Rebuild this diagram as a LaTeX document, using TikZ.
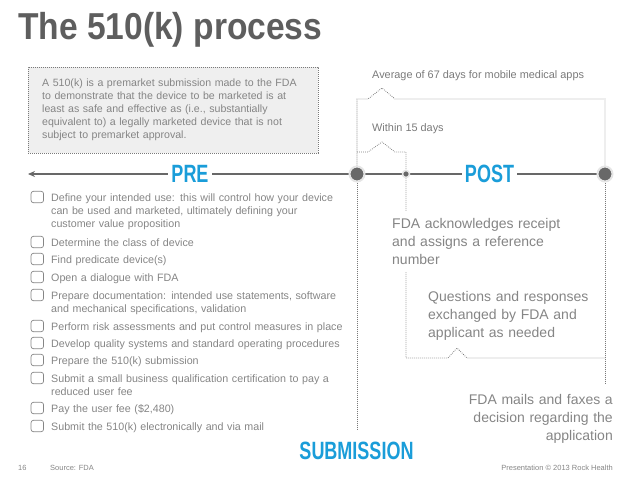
\documentclass[tikz,border=0pt]{standalone}
\usepackage{fontspec}
\setmainfont{Liberation Sans}
\usepackage{tikz}
\usetikzlibrary{arrows.meta, positioning, calc, backgrounds}
\definecolor{fdablue}{HTML}{1A9DD9}
\definecolor{headgray}{HTML}{5E5E5E}
\definecolor{bodygray}{HTML}{858585}
\definecolor{linegray}{HTML}{686868}
\definecolor{dotgray}{HTML}{7A7A7A}
\definecolor{notefill}{HTML}{EFEFEF}

\begin{document}
\begin{tikzpicture}[
    x=1pt, y=-1pt,
    phase/.style={font=\fontsize{25}{25}\selectfont\bfseries, text=fdablue, fill=white, inner xsep=3pt, inner ysep=1pt},
    notebox/.style={anchor=north west, draw=dotgray, dash pattern=on 0.8pt off 1.2pt, fill=notefill, text width=262pt, minimum width=290pt, minimum height=86pt, inner xsep=14pt, inner ysep=4pt, align=left, text=bodygray, font=\fontsize{10.6}{13}\selectfont},
    checkitem/.style={anchor=base west, align=left, text width=320pt, inner sep=0pt, text=bodygray, font=\fontsize{10.7}{13.3}\selectfont},
    tickbox/.style={draw=bodygray, rounded corners=2.5pt, minimum width=12.5pt, minimum height=11.5pt, inner sep=0pt, line width=0.7pt},
    milestone/.style={circle, fill=linegray, draw=black!10, line width=2pt, minimum size=15pt, inner sep=0pt},
    minor/.style={milestone, minimum size=7pt, line width=1.5pt},
    postnote/.style={align=left, inner sep=0pt, text=bodygray, font=\fontsize{14}{18.2}\selectfont},
    smallnote/.style={anchor=base west, inner sep=0pt, text=dotgray, font=\fontsize{10.9}{13}\selectfont},
    footer/.style={inner sep=0pt, text=bodygray, font=\fontsize{7.5}{9}\selectfont},
    bracket/.style={draw=dotgray, dash pattern=on 0.8pt off 1.2pt, line width=0.75pt},
    timeline/.style={draw=linegray, line width=1.8pt, -{Stealth[length=7pt, width=6pt]}},
]
    \useasboundingbox (0,0) rectangle (638,479);

    % Title and definition
    \node[anchor=base west, inner sep=0pt, text=headgray, font=\fontsize{37.5}{40}\selectfont\bfseries] (title) at (18,39) {\scalebox{0.895}[1]{The 510(k) process}};
    \node[notebox] (defn) at (28,67) {A 510(k) is a premarket submission made to the FDA\\to demonstrate that the device to be marketed is at\\least as safe and effective as (i.e., substantially\\equivalent to) a legally marketed device that is not\\subject to premarket approval.};

    % Timeline
    \coordinate (tip) at (28,174);
    \node[milestone] (sub) at (357,174) {};
    \node[minor] (ackdot) at (406,174) {};
    \node[milestone] (decision) at (605,174) {};
    \coordinate (subfoot) at (357,430);
    \coordinate (decfoot) at (605,383);

    \node[phase] (pre) at (190,174) {\scalebox{0.72}[1]{PRE}};
    \node[phase] (post) at (489.5,174) {\scalebox{0.72}[1]{POST}};
    \node[phase] (submission) at (356.5,450.5) {\scalebox{0.72}[1]{SUBMISSION}};

    \node[smallnote] (avg) at (372,78) {Average of 67 days for mobile medical apps};
    \node[smallnote] (within) at (372,131) {Within 15 days};

    % Checklist (pre)
    \node[checkitem] (i1) at (51,201) {Define your intended use: this will control how your device\\can be used and marketed, ultimately defining your\\customer value proposition};
    \node[checkitem] (i2) at (51,246) {Determine the class of device};
    \node[checkitem] (i3) at (51,263) {Find predicate device(s)};
    \node[checkitem] (i4) at (51,281) {Open a dialogue with FDA};
    \node[checkitem] (i5) at (51,299) {Prepare documentation: intended use statements, software\\and mechanical specifications, validation};
    \node[checkitem] (i6) at (51,330) {Perform risk assessments and put control measures in place};
    \node[checkitem] (i7) at (51,347) {Develop quality systems and standard operating procedures};
    \node[checkitem] (i8) at (51,364) {Prepare the 510(k) submission};
    \node[checkitem] (i9) at (51,382) {Submit a small business qualification certification to pay a\\reduced user fee};
    \node[checkitem] (i10) at (51,412) {Pay the user fee (\$2,480)};
    \node[checkitem] (i11) at (51,430) {Submit the 510(k) electronically and via mail};
    \foreach \n in {1,...,11}
        \node[tickbox] (box\n) at ($(i\n.base west)+(-13.7,-4)$) {};

    % Post steps
    \node[postnote, anchor=base west, text width=178pt, fill=white, inner xsep=2pt, inner ysep=7pt] (ack) at (390,228) {FDA acknowledges receipt\\and assigns a reference\\number};
    \node[postnote, anchor=base west, text width=180pt] (qa) at (428,301) {Questions and responses\\exchanged by FDA and\\applicant as needed};
    \node[postnote, anchor=base east, text width=180pt, align=right] (verdict) at (613,404) {FDA mails and faxes a\\decision regarding the\\application};

    % Footer
    \node[footer, anchor=base west] (pagenum) at (18,470) {16};
    \node[footer, anchor=base west] (source) at (50,470) {Source: FDA};
    \node[footer, anchor=base east] (credit) at (613,470) {Presentation \textcopyright{} 2013 Rock Health};

    % Lines and brackets
    \begin{scope}[on background layer]
        \draw[timeline] (decision) -- (tip);
        \draw[bracket] (sub) -- (subfoot);
        \draw[bracket] (sub) -- (357,99) -- (368,99) -- (382,88) -- (395,99) -- (605,99) -- (decision);
        \draw[bracket] (decision) -- (decfoot);
        \draw[bracket] (357,152) -- (368,152) -- (382,142) -- (395,152) -- (406,152) -- (ackdot);
        \draw[bracket] (ackdot) -- (406,358) -- (448,358) -- (457,348) -- (467,358) -- (605,358);
    \end{scope}
\end{tikzpicture}
\end{document}
